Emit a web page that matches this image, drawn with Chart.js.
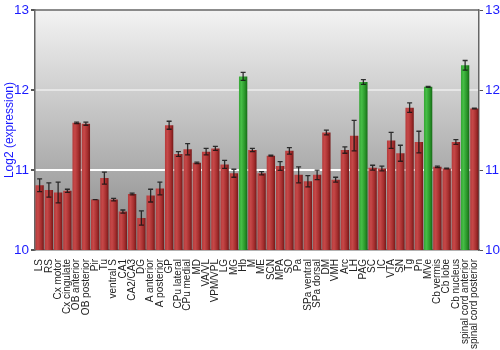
<!DOCTYPE html>
<html>
<head>
<meta charset="utf-8">
<script src="https://cdn.jsdelivr.net/npm/chart.js@4/dist/chart.umd.min.js"></script>
<style>
html,body{margin:0;padding:0;background:#fff;}
#wrap{width:500px;height:350px;position:relative;}
</style>
</head>
<body>
<div id="wrap"><canvas id="c" width="500" height="350"></canvas></div>
<script>
const categories = ["LS","RS","Cx motor","Cx cingulate","OB anterior","OB posterior","Pir","Tu","ventral S","CA1","CA2/CA3","DG","A anterior","A posterior","GP","CPu lateral","CPu medial","MD","VA/VL","VPM/VPL","LG","MG","Hb","M","ME","SCN","MPA","SO","Pa","SPa ventral","SPa dorsal","DM","VMH","Arc","LH","PAG","SC","IC","VTA","SN","Tg","Pn","MVe","Cb vermis","Cb lobe","Cb nucleus","spinal cord anterior","spinal cord posterior"];
const values = [10.81,10.75,10.72,10.74,11.59,11.58,10.63,10.90,10.63,10.48,10.70,10.40,10.68,10.77,11.56,11.20,11.26,11.09,11.23,11.27,11.07,10.96,12.17,11.25,10.96,11.18,11.05,11.24,10.94,10.86,10.94,11.47,10.88,11.25,11.43,12.10,11.03,11.02,11.37,11.21,11.78,11.35,12.04,11.04,11.02,11.35,12.31,11.77];
const errors = [0.08,0.09,0.13,0.02,0.01,0.02,0.0,0.075,0.015,0.02,0.01,0.09,0.08,0.08,0.05,0.03,0.07,0.01,0.04,0.025,0.05,0.05,0.05,0.02,0.02,0.005,0.055,0.04,0.1,0.07,0.06,0.03,0.03,0.04,0.19,0.03,0.03,0.03,0.1,0.1,0.06,0.135,0.005,0.01,0.005,0.03,0.06,0.005];
const highlighted = ["Hb","PAG","MVe","spinal cord anterior"];
const yTicks = [10,11,12,13];

function barGradient(ctx){
  const chart = ctx.chart;
  const xs = chart.scales.x;
  const green = highlighted.includes(categories[ctx.dataIndex]);
  if(!xs || !chart.chartArea) return green ? '#2e9a2e' : '#a83030';
  const cx = xs.getPixelForValue(ctx.dataIndex);
  const w = (xs.width / categories.length) * 0.9;
  const g = chart.ctx.createLinearGradient(cx - w/2, 0, cx + w/2, 0);
  if(green){
    g.addColorStop(0,'#35a535'); g.addColorStop(0.3,'#45bd45');
    g.addColorStop(0.7,'#2a962a'); g.addColorStop(1,'#166a16');
  } else {
    g.addColorStop(0,'#b53a3a'); g.addColorStop(0.3,'#c64848');
    g.addColorStop(0.7,'#a52e2e'); g.addColorStop(1,'#761818');
  }
  return g;
}

const bgPlugin = {
  id:'bg',
  beforeDraw(chart){
    const a = chart.chartArea, c = chart.ctx;
    const g = c.createLinearGradient(0,a.top,0,a.bottom);
    g.addColorStop(0,'#f3f3f3'); g.addColorStop(1,'#878787');
    c.save(); c.fillStyle = g; c.fillRect(a.left,a.top,a.right-a.left,a.bottom-a.top); c.restore();
  },
  afterDraw(chart){
    const a = chart.chartArea, c = chart.ctx;
    c.save(); c.strokeStyle='#666'; c.lineWidth=1.5;
    c.beginPath(); c.moveTo(a.left,a.top); c.lineTo(a.right,a.top); c.stroke();
    c.restore();
  }
};

const errPlugin = {
  id:'err',
  afterDatasetsDraw(chart){
    const xs = chart.scales.x, ys = chart.scales.y, c = chart.ctx;
    c.save(); c.strokeStyle='rgba(20,20,20,0.85)'; c.lineWidth=1.3;
    values.forEach((v,i)=>{
      const e = errors[i];
      const x = xs.getPixelForValue(i);
      const y1 = ys.getPixelForValue(v+e), y2 = ys.getPixelForValue(v-e);
      c.beginPath();
      c.moveTo(x,y1); c.lineTo(x,y2);
      c.moveTo(x-2.5,y1); c.lineTo(x+2.5,y1);
      c.moveTo(x-2.5,y2); c.lineTo(x+2.5,y2);
      c.stroke();
    });
    c.restore();
  }
};

const tickFont = {family:'Liberation Sans', size:13.5};
new Chart(document.getElementById('c'),{
  type:'bar',
  data:{labels:categories, datasets:[{data:values, backgroundColor:barGradient, borderWidth:0, barPercentage:0.9, categoryPercentage:1.0}]},
  options:{
    responsive:false, animation:false,
    layout:{padding:{top:2,left:0,right:0,bottom:0}},
    plugins:{legend:{display:false}, tooltip:{enabled:false}},
    scales:{
      x:{
        grid:{display:false},
        border:{display:true,color:'#666',width:1.5},
        ticks:{autoSkip:false, maxRotation:90, minRotation:90, color:'#222', font:{family:'Liberation Sans',size:10}, padding:1},
        afterFit(s){ s.height = 100; }
      },
      y:{
        position:'left', min:10, max:13,
        afterBuildTicks(s){ s.ticks = yTicks.map(v=>({value:v})); },
        grid:{color:(ctx)=> (ctx.tick && (ctx.tick.value===11||ctx.tick.value===12)) ? (ctx.tick.value===12?'#e6e6e6':'#ffffff') : 'rgba(0,0,0,0)', lineWidth:2, tickLength:4, tickColor:'#555'},
        border:{display:true,color:'#666',width:1.5},
        ticks:{color:'#1a1aff', font:tickFont, padding:2},
        title:{display:true, text:'Log2 (expression)', color:'#1a1aff', font:{family:'Liberation Sans',size:12}, padding:{top:2,bottom:0}},
        afterFit(s){ s.width = 35; }
      },
      y2:{
        position:'right', min:10, max:13,
        afterBuildTicks(s){ s.ticks = yTicks.map(v=>({value:v})); },
        grid:{drawOnChartArea:false, tickLength:4, tickColor:'#555'},
        border:{display:true,color:'#666',width:1.5},
        ticks:{color:'#1a1aff', font:tickFont, padding:2},
        afterFit(s){ s.width = 21; }
      }
    }
  },
  plugins:[bgPlugin, errPlugin]
});
</script>
</body>
</html>
